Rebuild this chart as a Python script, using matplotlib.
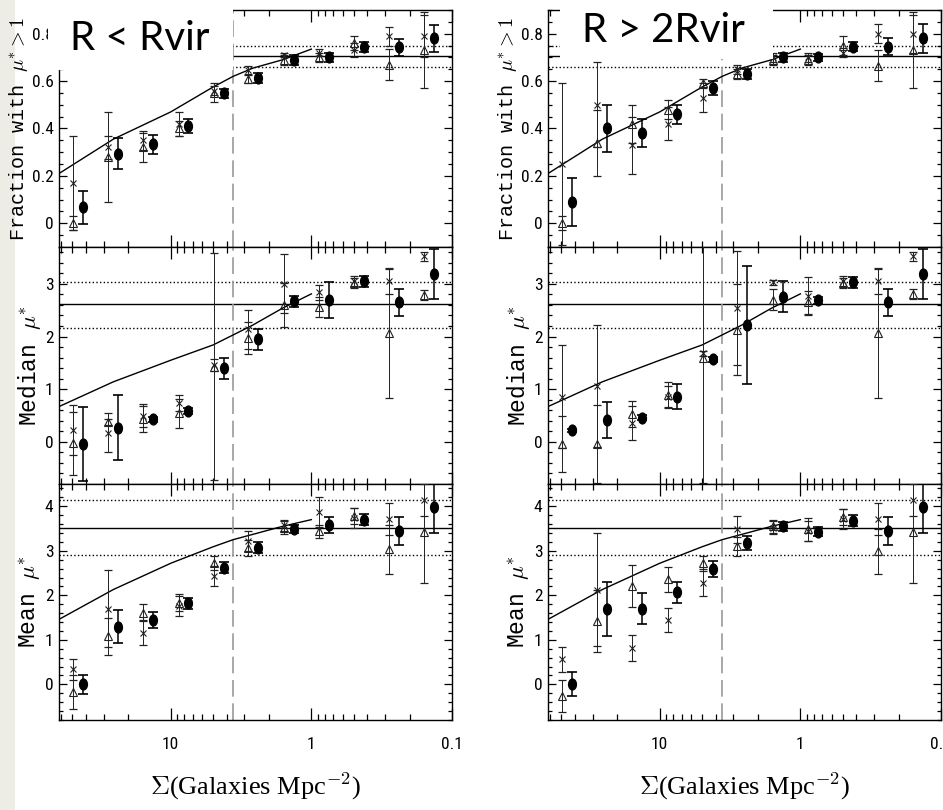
import matplotlib
matplotlib.use('Agg')
import matplotlib.pyplot as plt
from matplotlib import font_manager as fm
from matplotlib.patches import Rectangle
from matplotlib.path import Path
from matplotlib.transforms import Affine2D
from matplotlib.ticker import LogLocator, MultipleLocator, NullFormatter, FuncFormatter

plt.rcParams['mathtext.fontset'] = 'cm'

# surface density bins (Galaxies Mpc^-2); filled dots are drawn slightly offset
sigma = [49.3, 27.9, 15.7, 8.8, 4.95, 2.8, 1.57, 0.88, 0.50, 0.28, 0.157]
sigma_dot = [42.0, 23.7, 13.3, 7.5, 4.2, 2.38, 1.33, 0.75, 0.42, 0.238, 0.134]

# model curve
model_sigma = [62.3, 25.6, 10.0, 5.0, 3.6, 2.6, 1.6, 1.0]
model_frac = [0.21, 0.355, 0.47, 0.575, 0.62, 0.655, 0.69, 0.735]
model_median = [0.67, 1.14, 1.55, 1.84, 2.03, 2.22, 2.54, 2.81]
model_mean = [1.46, 2.13, 2.72, 3.09, 3.25, 3.37, 3.55, 3.70]

# field value (solid) and spread (dotted)
field_frac = [0.706, 0.66, 0.75]
field_median = [2.61, 2.17, 3.04]
field_mean = [3.52, 2.90, 4.13]

sigma_cut = 3.6

# ---- R < Rvir ----
in_frac_tri = [0.00, 0.28, 0.32, 0.40, 0.55, 0.61, 0.69, 0.70, 0.76, 0.67, 0.73]
in_frac_tri_err = [0.03, 0.19, 0.06, 0.03, 0.04, 0.02, 0.02, 0.02, 0.03, 0.065, 0.16]
in_frac_crs = [0.17, 0.32, 0.35, 0.42, 0.56, 0.645, 0.71, 0.72, 0.73, 0.79, 0.79]
in_frac_crs_err = [0.20, 0.05, 0.04, 0.05, 0.02, 0.02, 0.01, 0.015, 0.03, 0.04, 0.09]
in_frac_dot = [0.067, 0.294, 0.333, 0.41, 0.548, 0.614, 0.69, 0.70, 0.743, 0.743, 0.78]
in_frac_dot_err = [0.07, 0.065, 0.04, 0.03, 0.02, 0.02, 0.02, 0.02, 0.02, 0.035, 0.058]

in_med_tri = [-0.03, 0.38, 0.44, 0.54, 1.43, 1.97, 2.60, 2.57, 3.02, 2.06, 2.79]
in_med_tri_err = [0.60, 0.06, 0.25, 0.27, 2.15, 0.30, 0.42, 0.19, 0.10, 1.23, 0.10]
in_med_crs = [0.23, 0.17, 0.50, 0.74, 1.46, 2.14, 3.00, 2.84, 3.05, 3.05, 3.52]
in_med_crs_err = [0.47, 0.37, 0.22, 0.15, 0.12, 0.37, 0.56, 0.14, 0.09, 0.25, 0.08]
in_med_dot = [-0.04, 0.27, 0.43, 0.59, 1.40, 1.95, 2.67, 2.69, 3.05, 2.65, 3.19]
in_med_dot_err = [0.70, 0.62, 0.05, 0.06, 0.20, 0.20, 0.10, 0.34, 0.10, 0.26, 0.47]

in_mean_tri = [-0.17, 1.08, 1.61, 1.83, 2.73, 3.07, 3.52, 3.44, 3.78, 3.03, 3.42]
in_mean_tri_err = [0.38, 0.41, 0.19, 0.19, 0.16, 0.18, 0.15, 0.15, 0.18, 0.54, 1.15]
in_mean_crs = [0.34, 1.70, 1.16, 1.76, 2.43, 3.22, 3.57, 3.87, 3.74, 3.72, 4.14]
in_mean_crs_err = [0.24, 0.87, 0.28, 0.23, 0.23, 0.22, 0.12, 0.34, 0.22, 0.36, 0.35]
in_mean_dot = [0.00, 1.29, 1.44, 1.82, 2.62, 3.07, 3.49, 3.57, 3.70, 3.44, 3.99]
in_mean_dot_err = [0.21, 0.37, 0.18, 0.13, 0.12, 0.12, 0.10, 0.18, 0.13, 0.31, 0.60]

# ---- R > 2Rvir ----
out_frac_tri = [0.00, 0.34, 0.42, 0.48, 0.59, 0.63, 0.69, 0.69, 0.75, 0.665, 0.73]
out_frac_tri_err = [0.03, 0.14, 0.08, 0.04, 0.02, 0.02, 0.02, 0.02, 0.04, 0.065, 0.16]
out_frac_crs = [0.25, 0.50, 0.33, 0.42, 0.53, 0.65, 0.70, 0.70, 0.72, 0.80, 0.80]
out_frac_crs_err = [0.34, 0.18, 0.12, 0.07, 0.06, 0.02, 0.02, 0.02, 0.02, 0.04, 0.08]
out_frac_dot = [0.09, 0.40, 0.38, 0.46, 0.57, 0.63, 0.70, 0.70, 0.745, 0.745, 0.78]
out_frac_dot_err = [0.10, 0.10, 0.06, 0.04, 0.03, 0.02, 0.02, 0.015, 0.02, 0.035, 0.06]

out_med_tri = [-0.04, -0.04, 0.53, 0.89, 1.59, 2.13, 2.70, 2.65, 3.02, 2.06, 2.81]
out_med_tri_err = [0.53, 0.74, 0.25, 0.25, 2.37, 0.86, 0.20, 0.22, 0.10, 1.23, 0.10]
out_med_crs = [0.86, 1.06, 0.36, 0.86, 1.68, 2.54, 3.03, 2.77, 3.05, 3.05, 3.52]
out_med_crs_err = [0.98, 1.16, 0.32, 0.20, 0.05, 1.08, 0.05, 0.36, 0.09, 0.25, 0.08]
out_med_dot = [0.22, 0.41, 0.46, 0.86, 1.57, 2.22, 2.76, 2.69, 3.03, 2.65, 3.19]
out_med_dot_err = [0.03, 0.34, 0.05, 0.24, 0.05, 1.12, 0.29, 0.07, 0.10, 0.26, 0.47]

out_mean_tri = [-0.26, 1.42, 2.21, 2.36, 2.72, 3.10, 3.55, 3.48, 3.76, 2.99, 3.42]
out_mean_tri_err = [0.35, 0.70, 0.47, 0.28, 0.17, 0.21, 0.15, 0.26, 0.17, 0.50, 1.15]
out_mean_crs = [0.56, 2.13, 0.82, 1.44, 2.28, 3.48, 3.52, 3.44, 3.72, 3.72, 4.14]
out_mean_crs_err = [0.29, 1.27, 0.29, 0.27, 0.30, 0.31, 0.15, 0.22, 0.22, 0.36, 0.35]
out_mean_dot = [0.01, 1.70, 1.70, 2.07, 2.60, 3.18, 3.55, 3.43, 3.68, 3.44, 3.99]
out_mean_dot_err = [0.26, 0.61, 0.35, 0.24, 0.18, 0.16, 0.10, 0.10, 0.13, 0.31, 0.60]

# fonts: prefer a narrow face for the tick numbers, like the original plot
fonts = fm.fontManager.ttflist
names = {f.name for f in fonts}
tick_stretch = 'normal'
if 'Liberation Sans Narrow' in names:
    tick_family, tick_size = 'Liberation Sans Narrow', 12.5
elif 'Roboto Condensed' in names:
    tick_family, tick_size = 'Roboto Condensed', 12.5
elif any(f.name == 'DejaVu Sans' and 'condensed' in str(f.stretch) for f in fonts):
    tick_family, tick_size, tick_stretch = 'DejaVu Sans', 11, 'condensed'
else:
    tick_family, tick_size = 'DejaVu Sans', 9.5

# tall filled ellipse marker
ellipse = Path.unit_circle().transformed(Affine2D().scale(0.72, 1.0))

W, H = 943, 810
fig = plt.figure(figsize=(W / 100, H / 100), dpi=100)
fig.patch.set_facecolor('white')

col_left = [59, 548]
rows = [(10, 247), (247, 484), (484, 720)]   # pixel top/bottom of each panel


def draw_panel(ax, tri, tri_err, crs, crs_err, dot, dot_err, model, field):
    ax.plot(model_sigma, model, color='k', lw=1.0, zorder=3)
    ax.axhline(field[0], color='k', lw=1.0, zorder=2)
    ax.axhline(field[1], color='k', lw=1.0, ls=':', zorder=2)
    ax.axhline(field[2], color='k', lw=1.0, ls=':', zorder=2)
    ax.axvline(sigma_cut, color='#9a9a9a', lw=1.2, dashes=(10, 4), zorder=2)
    ax.errorbar(sigma, tri, yerr=tri_err, fmt='none', ecolor='#222222',
                elinewidth=0.7, capsize=3, capthick=0.9, zorder=4)
    ax.errorbar(sigma, crs, yerr=crs_err, fmt='none', ecolor='#222222',
                elinewidth=0.7, capsize=3, capthick=0.9, zorder=4)
    ax.errorbar(sigma_dot, dot, yerr=dot_err, fmt='none', ecolor='k',
                elinewidth=1.1, capsize=3.5, capthick=1.2, zorder=4)
    ax.plot(sigma, tri, ls='none', marker='^', ms=6, mfc='none', mec='#222222',
            mew=0.8, zorder=5)
    ax.plot(sigma, crs, ls='none', marker='x', ms=5, mec='#222222', mew=0.8, zorder=5)
    ax.plot(sigma_dot, dot, ls='none', marker=ellipse, ms=7.8, color='k', zorder=5)


panels = [
    [(in_frac_tri, in_frac_tri_err, in_frac_crs, in_frac_crs_err, in_frac_dot, in_frac_dot_err),
     (in_med_tri, in_med_tri_err, in_med_crs, in_med_crs_err, in_med_dot, in_med_dot_err),
     (in_mean_tri, in_mean_tri_err, in_mean_crs, in_mean_crs_err, in_mean_dot, in_mean_dot_err)],
    [(out_frac_tri, out_frac_tri_err, out_frac_crs, out_frac_crs_err, out_frac_dot, out_frac_dot_err),
     (out_med_tri, out_med_tri_err, out_med_crs, out_med_crs_err, out_med_dot, out_med_dot_err),
     (out_mean_tri, out_mean_tri_err, out_mean_crs, out_mean_crs_err, out_mean_dot, out_mean_dot_err)],
]
models = [model_frac, model_median, model_mean]
fields = [field_frac, field_median, field_mean]
ylims = [(-0.1, 0.9), (-0.8, 3.7), (-0.8, 4.5)]
ymajor = [0.2, 1, 1]
yminor = [0.05, 0.2, 0.2]
ylabels = [r'Fraction with $\mu^{*}>1$', r'Median $\mu^{*}$', r'Mean $\mu^{*}$']
ylabel_x = [-0.074, -0.040, -0.040]
ylabel_size = [14.5, 16.5, 16.5]

for c in range(2):
    for r in range(3):
        top, bot = rows[r]
        ax = fig.add_axes([col_left[c] / W, 1 - bot / H, 393 / W, (bot - top) / H])
        draw_panel(ax, *panels[c][r], models[r], fields[r])
        ax.set_xscale('log')
        ax.set_xlim(62.3, 0.1)
        ax.set_ylim(*ylims[r])
        ax.set_xticks([10, 1, 0.1])
        ax.xaxis.set_minor_locator(LogLocator(base=10, subs=[2, 3, 4, 5, 6, 7, 8, 9]))
        ax.xaxis.set_minor_formatter(NullFormatter())
        ax.yaxis.set_major_locator(MultipleLocator(ymajor[r]))
        ax.yaxis.set_minor_locator(MultipleLocator(yminor[r]))
        ax.yaxis.set_major_formatter(FuncFormatter(lambda v, p: '%g' % round(v, 3)))
        if r == 2:
            ax.set_xticklabels(['10', '1', '0.1'])
            ax.set_xlabel(r'$\Sigma$(Galaxies Mpc$^{-2}$)', family='Liberation Serif',
                          fontsize=19)
            ax.xaxis.set_label_coords(0.5, -0.215)
        else:
            ax.set_xticklabels([])
        ax.tick_params(axis='both', which='both', direction='in', top=True, right=True,
                       width=0.9, colors='k')
        ax.tick_params(axis='x', which='major', length=8.5, pad=12.5)
        ax.tick_params(axis='x', which='minor', length=4.3)
        ax.tick_params(axis='y', which='major', length=5.5, pad=4)
        ax.tick_params(axis='y', which='minor', length=3)
        for lab in ax.get_xticklabels() + ax.get_yticklabels():
            lab.set_family(tick_family)
            lab.set_fontstretch(tick_stretch)
            lab.set_fontsize(tick_size)
        ax.set_ylabel(ylabels[r], family='Liberation Mono', fontsize=ylabel_size[r])
        ax.yaxis.set_label_coords(ylabel_x[r], 0.5)
        for sp in ax.spines.values():
            sp.set_linewidth(1.0)

# beige strip on the left edge
fig.add_artist(Rectangle((0, 0), 15 / W, 1, transform=fig.transFigure,
                         facecolor='#EDEDE5', edgecolor='none', zorder=-1))

# white title boxes covering the top-left of each column
fig.add_artist(Rectangle((48 / W, 1 - 70 / H), 185 / W, 70 / H, transform=fig.transFigure,
                         facecolor='white', edgecolor='none', zorder=10))
fig.add_artist(Rectangle((560 / W, 1 - 59 / H), 213 / W, 59 / H, transform=fig.transFigure,
                         facecolor='white', edgecolor='none', zorder=10))
fig.text(70 / W, 1 - 50 / H, 'R < Rvir', family='Lato', fontsize=29,
         ha='left', va='baseline', zorder=11)
fig.text(582 / W, 1 - 42 / H, 'R > 2Rvir', family='Lato', fontsize=29,
         ha='left', va='baseline', zorder=11)

fig.savefig('out.png', dpi=100)
